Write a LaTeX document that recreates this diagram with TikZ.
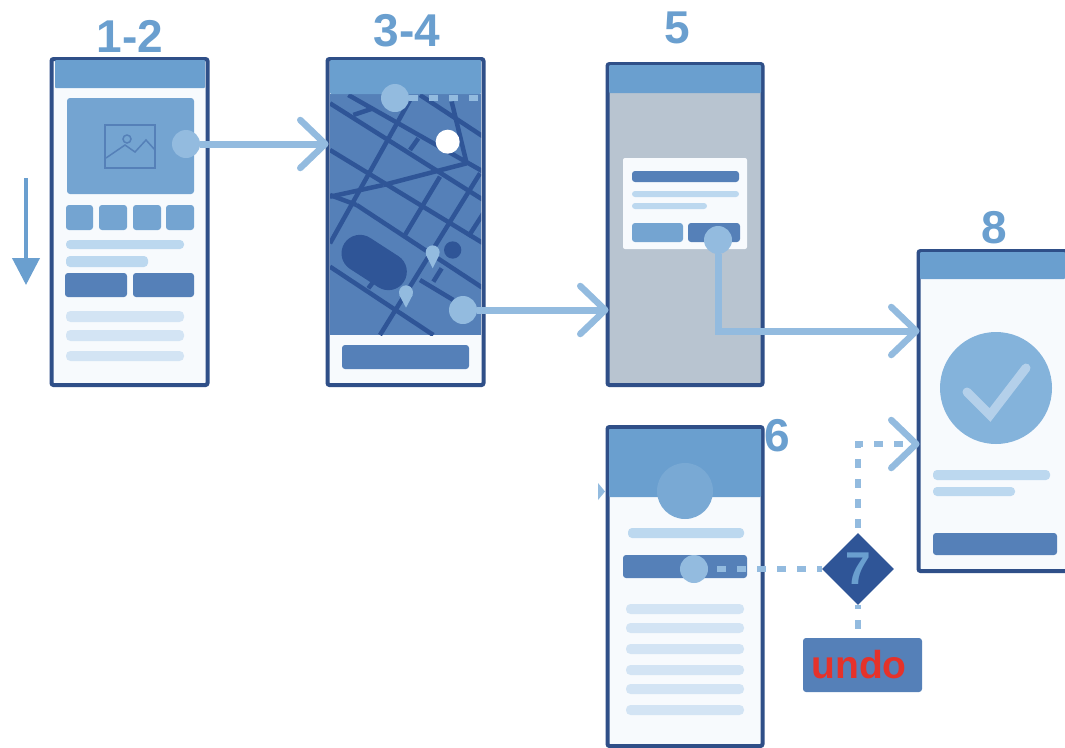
\documentclass[tikz,border=0pt]{standalone}
\usepackage{fontspec}
\setmainfont{Liberation Sans}
\usetikzlibrary{arrows.meta, positioning, shapes.geometric}
\definecolor{framecol}{HTML}{2F4F88}
\definecolor{headcol}{HTML}{6A9FCF}
\definecolor{imgcol}{HTML}{74A4D1}
\definecolor{btncol}{HTML}{5580B8}
\definecolor{roadcol}{HTML}{2F5597}
\definecolor{dotcol}{HTML}{93BBDF}
\definecolor{linecol}{HTML}{BCD8EF}
\definecolor{palecol}{HTML}{D3E4F4}
\definecolor{screencol}{HTML}{F7FAFD}
\definecolor{greycol}{HTML}{B8C4D0}
\definecolor{numcol}{HTML}{6A9FCF}
\definecolor{undocol}{HTML}{E5322A}
\definecolor{checkcol}{HTML}{84B3DB}
\definecolor{tickcol}{HTML}{B4D0EA}
\begin{document}
\begin{tikzpicture}[
	x=1pt, y=-1pt,
	phone/.style={draw=framecol, line width=4pt, rounded corners=2pt, fill=screencol, inner sep=0pt},
	head/.style={fill=headcol, rounded corners=1pt},
	btn/.style={fill=btncol, rounded corners=3pt},
	tile/.style={fill=imgcol, rounded corners=3pt},
	bar/.style={fill=linecol, rounded corners=4pt},
	pale/.style={fill=palecol, rounded corners=4.5pt},
	dot/.style={circle, fill=dotcol, minimum size=28pt, inner sep=0pt},
	num/.style={text=numcol, font=\fontsize{46}{46}\selectfont\bfseries, inner sep=0pt},
	road/.style={draw=roadcol, line width=4.5pt},
	arr/.style={draw=dotcol, line width=7pt, shorten >=-3pt, -{Straight Barb[length=25pt, width=48pt, line width=6.5pt, round]}},
	dasharr/.style={arr, line width=6.5pt, dash pattern=on 9pt off 11pt, dash phase=15pt},
	dashline/.style={draw=dotcol, line width=6.5pt, dash pattern=on 9pt off 11pt}
	]
	
	\path[use as bounding box, fill=white] (0,0) rectangle (1065,747);
	
	% screen 1-2
	\node[phone, minimum width=156pt, minimum height=326pt] (list) at (129.5,222) {};
	\fill[head] (55,60) rectangle (205,88);
	\fill[tile] (67,98) rectangle (194,194);
	\draw[draw=btncol, line width=1.5pt] (105,125) rectangle (155,168);
	\draw[draw=btncol, line width=1.5pt] (106,158) -- (125,145) -- (135,152) -- (146,140) -- (155,150);
	\draw[draw=btncol, line width=1.5pt] (127,139) circle[radius=4];
	\foreach \xa/\xb in {66/93, 99/127, 133/161, 166/194}
		\fill[tile] (\xa,205) rectangle (\xb,230);
	\fill[bar] (66,240) rectangle (184,249);
	\fill[bar] (66,256) rectangle (148,267);
	\fill[btn] (65,273) rectangle (127,297);
	\fill[btn] (133,273) rectangle (194,297);
	\foreach \ya/\yb in {311/322, 330/341, 351/361}
		\fill[pale] (66,\ya) rectangle (184,\yb);
	
	% screen 3-4
	\node[phone, minimum width=156pt, minimum height=326pt] (map) at (405.5,222) {};
	\begin{scope}[shift={(310,40)}, scale=1/3]
		\clip (60,162) rectangle (513,885);
		\fill[btncol] (60,162) rectangle (513,885);
		\foreach \ax/\ay/\bx/\by in {60/190/520/480, 115/165/520/395, 330/165/520/290, 60/330/520/610,
			60/465/140/495, 140/495/520/745, 60/680/370/885, 330/720/430/780,
			60/610/300/180, 285/585/390/410, 210/885/510/400, 475/590/520/520,
			60/470/220/435, 220/435/470/370, 130/225/190/205, 425/185/470/370,
			300/330/325/295, 175/745/188/728, 370/725/395/685}
			\draw[road] (\ax,\ay) -- (\bx,\by);
		\draw[roadcol, line width=37pt, line cap=round] (150,640) -- (235,695);
		\fill[roadcol] (428,630) circle[radius=26];
		\fill[white] (413,305) circle[radius=36];
		\fill[dotcol] (368,637) circle[radius=21];
		\fill[dotcol] (348,645) -- (368,685) -- (388,645) -- cycle;
		\fill[dotcol] (288,757) circle[radius=21];
		\fill[dotcol] (268,765) -- (288,803) -- (308,765) -- cycle;
	\end{scope}
	\fill[head] (330,60) rectangle (481,94);
	\fill[btn] (342,345) rectangle (469,369);
	
	% screen 5
	\node[phone, fill=greycol, minimum width=155pt, minimum height=321pt] (dialog) at (685,224.5) {};
	\fill[head] (609,65) rectangle (761,93);
	\fill[screencol, rounded corners=2pt] (623,158) rectangle (747,249);
	\fill[btn] (632,171) rectangle (739,182);
	\fill[bar, rounded corners=3pt] (632,191) rectangle (739,197);
	\fill[bar, rounded corners=3pt] (632,203) rectangle (707,209);
	\fill[tile] (632,223) rectangle (683,242);
	\fill[btn] (688,223) rectangle (740,242);
	
	% screen 6
	\node[phone, minimum width=155pt, minimum height=319pt] (profile) at (685,586.5) {};
	\fill[head] (609,429) rectangle (761,497);
	\fill[fill=headcol!90!white] (685,491) circle[radius=28];
	\fill[bar] (628,528) rectangle (744,538);
	\fill[btn] (623,555) rectangle (747,578);
	\foreach \ya/\yb in {604/614, 623/633, 644/654, 665/675, 684/694, 705/715}
		\fill[pale] (626,\ya) rectangle (744,\yb);
	\fill[dotcol] (598,483) -- (605,491.5) -- (598,500) -- cycle;
	
	% screen 8
	\node[phone, minimum width=154pt, minimum height=320pt] (done) at (995.5,411) {};
	\fill[head] (920,252) rectangle (1065,279);
	\fill[checkcol] (996,388) circle[radius=56];
	\draw[tickcol, line width=9pt, line cap=round] (967,392) -- (990,415) -- (1026,368);
	\fill[bar] (933,470) rectangle (1050,480);
	\fill[bar] (933,487) rectangle (1015,496);
	\fill[btn] (933,533) rectangle (1057,555);
	
	% numbers
	\node[num] at (130,36) {1-2};
	\node[num] at (407,31) {3-4};
	\node[num] at (677,28) {5};
	\node[num] at (777,436) {6};
	\node[num] at (994,228) {8};
	
	% decision and undo
	\node[diamond, aspect=1, fill=roadcol, minimum width=72pt, minimum height=72pt, inner sep=0pt, text=numcol,
		font=\fontsize{46}{46}\selectfont\bfseries] (decide) at (858,569) {7};
	\node[fill=btncol, rounded corners=3pt, minimum width=119pt, minimum height=54pt, inner sep=0pt, text=undocol,
		font=\fontsize{39}{39}\selectfont\bfseries] (undo) at (862.5,665) {undo\hspace*{7pt}};
	
	% touch points
	\node[dot] (touchimg) at (186,144) {};
	\node[dot] (touchtop) at (395,98) {};
	\node[dot] (touchpin) at (463,310) {};
	\node[dot] (touchok) at (718,240) {};
	\node[dot] (touchrow) at (694,569) {};
	\coordinate (mapend) at (478,98);
	\coordinate (scrolltop) at (26,178);
	\coordinate (scrollend) at (26,285);
	
	\draw[arr] (touchimg) -- (touchimg -| map.west);
	\draw[arr] (touchpin) -- (touchpin -| dialog.west);
	\draw[arr] (touchok) |- (done.west |- 0,331);
	\draw[dasharr] (decide) |- (done.west |- 0,444);
	\draw[dashline] (touchtop) -- (mapend);
	\draw[dashline, dash phase=4pt] (decide) -- (touchrow);
	\draw[dashline, dash phase=5pt] (decide) -- (decide |- undo.north);
	\draw[draw=numcol, line width=4pt, -{Triangle[length=27pt, width=27pt]}] (scrolltop) -- (scrollend);
	
\end{tikzpicture}
\end{document}
